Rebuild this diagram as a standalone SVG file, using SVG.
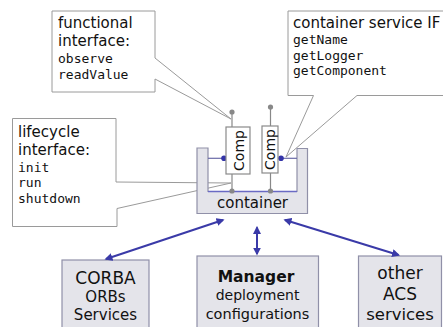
<svg xmlns="http://www.w3.org/2000/svg" width="443" height="327" viewBox="0 0 443 327">
<style>
.call{fill:#fff;stroke:#9a9a9a;stroke-width:1}
.sans{font-family:"DejaVu Sans","Liberation Sans",sans-serif;fill:#111}
.mono{font-family:"DejaVu Sans Mono","Liberation Mono",monospace;font-size:13px;fill:#111}
.comp{fill:#fff;stroke:#8a8a8a;stroke-width:1.2}
.pin{stroke:#888;stroke-width:1.2}
.pdot{fill:#888}
.bdot{fill:#3434a8}
.blink{stroke:#6a6aa8;stroke-width:1.2}
.box{fill:#e4e4ea;stroke:#9090a8;stroke-width:1.2}
.arr{stroke:#3a3aa8;stroke-width:2;fill:none;marker-start:url(#ah);marker-end:url(#ah)}
</style>
<defs>
<marker id="ah" viewBox="0 0 10 10" refX="8" refY="5" markerWidth="4" markerHeight="4" orient="auto-start-reverse">
<path d="M0,0 L10,5 L0,10 Z" fill="#3a3aa8"/>
</marker>
</defs>
<rect width="443" height="327" fill="#fff"/>

<g id="functional-interface">
<path class="call" d="M52,11 H155 V58 L231,119 L155,79 V92 H52 Z"/>
<text class="sans" x="58" y="28" font-size="15">functional</text>
<text class="sans" x="58" y="45.5" font-size="15">interface:</text>
<text class="mono" x="58" y="63">observe</text>
<text class="mono" x="58" y="78.5">readValue</text>
</g>

<g id="container-service-if">
<path class="call" d="M288,11 H446 V95.5 H357 L286,157 L313.5,95.5 H288 Z"/>
<text class="sans" x="293" y="27.5" font-size="15">container service IF</text>
<text class="mono" x="293" y="43.5">getName</text>
<text class="mono" x="293" y="59.5">getLogger</text>
<text class="mono" x="293" y="75">getComponent</text>
</g>

<g id="lifecycle-interface">
<path class="call" d="M12.5,118.5 H116 V182 L231,183 L117,208.5 V226.5 H12.5 Z"/>
<text class="sans" x="18" y="136.5" font-size="15">lifecycle</text>
<text class="sans" x="18" y="155" font-size="15">interface:</text>
<text class="mono" x="18" y="171.5">init</text>
<text class="mono" x="18" y="187">run</text>
<text class="mono" x="18" y="202.5">shutdown</text>
</g>

<g id="container">
<path class="box" d="M197,148 H208 V191.5 H297 V148.5 H307.5 V213.5 H197 Z"/>
<line x1="208" y1="191.5" x2="297" y2="191.5" stroke="#6a6ac4" stroke-width="1.3"/>
<text class="sans" x="252.5" y="207.5" font-size="15" text-anchor="middle">container</text>
</g>

<g id="comp-left">
<line class="pin" x1="232" y1="112" x2="232" y2="127"/>
<circle class="pdot" cx="232" cy="112" r="2.6"/>
<line class="pin" x1="232" y1="174" x2="232" y2="191"/>
<circle class="pdot" cx="232" cy="191" r="2.6"/>
<line class="blink" x1="208" y1="158.3" x2="224" y2="158.3"/>
<circle class="bdot" cx="224" cy="158.3" r="2.8"/>
<rect class="comp" x="226" y="127" width="24" height="47"/>
<text class="sans" font-size="14" text-anchor="middle" transform="translate(243.5,150.5) rotate(-90)">Comp</text>
</g>

<g id="comp-right">
<line class="pin" x1="270.5" y1="107" x2="270.5" y2="126"/>
<circle class="pdot" cx="270.5" cy="107" r="2.6"/>
<line class="pin" x1="270.5" y1="173" x2="270.5" y2="191"/>
<circle class="pdot" cx="270.5" cy="191" r="2.6"/>
<line class="blink" x1="281" y1="158.3" x2="297" y2="158.3"/>
<circle class="bdot" cx="281" cy="158.3" r="2.8"/>
<rect class="comp" x="262" y="126" width="16" height="47"/>
<text class="sans" font-size="14" text-anchor="middle" transform="translate(275,149.5) rotate(-90)">Comp</text>
</g>

<g id="corba">
<rect class="box" x="62" y="260" width="87" height="70"/>
<text class="sans" x="105.5" y="283.5" font-size="17" text-anchor="middle">CORBA</text>
<text class="sans" x="105.5" y="301.5" font-size="15" text-anchor="middle">ORBs</text>
<text class="sans" x="105.5" y="319.5" font-size="15" text-anchor="middle">Services</text>
</g>

<g id="manager">
<rect class="box" x="197" y="256" width="121.5" height="74"/>
<text class="sans" x="256" y="282" font-size="15.5" font-weight="bold" text-anchor="middle">Manager</text>
<text class="sans" x="257.5" y="300" font-size="14" text-anchor="middle">deployment</text>
<text class="sans" x="257.5" y="318.5" font-size="14.5" text-anchor="middle">configurations</text>
</g>

<g id="other-acs">
<rect class="box" x="358.5" y="256" width="83" height="74"/>
<text class="sans" x="400" y="278.5" font-size="17" text-anchor="middle">other</text>
<text class="sans" x="400" y="300" font-size="17" text-anchor="middle">ACS</text>
<text class="sans" x="400" y="319.5" font-size="16.5" text-anchor="middle">services</text>
</g>

<g id="connectors">
<line class="arr" x1="223" y1="220" x2="106" y2="259"/>
<line class="arr" x1="257" y1="227.5" x2="257" y2="254"/>
<line class="arr" x1="285" y1="220" x2="398.5" y2="255"/>
</g>
</svg>
